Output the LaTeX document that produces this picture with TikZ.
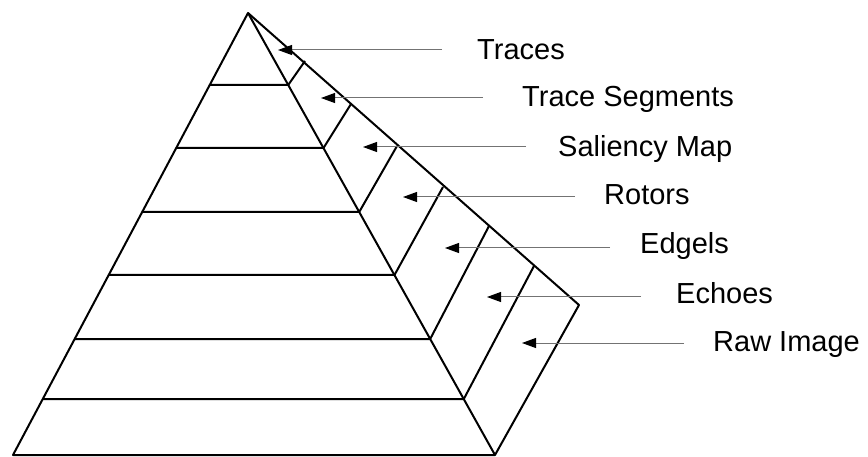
\documentclass[tikz,border=0pt]{standalone}
\usepackage{fontspec}
\setmainfont{Liberation Sans}
\usetikzlibrary{arrows.meta}
\tikzstyle{pyr}=[line width=2pt, line join=round]
\tikzstyle{layer}=[anchor=base west, inner sep=0pt, font=\fontsize{29}{29}\selectfont]
\tikzstyle{pointer}=[draw=black!55, line width=1pt, -{Triangle[length=14pt,width=10pt,color=black]}]

\begin{document}
\begin{tikzpicture}[x=1pt, y=-1pt]
\useasboundingbox (0, 0) rectangle (868, 457);
% pyramid corners and the side strip
\coordinate (apex) at (248, 13);
\coordinate (bl) at (13, 455);
\coordinate (br) at (495, 455);
\coordinate (corner) at (579, 305);
\draw[pyr] (bl) -- (apex) -- (br) -- cycle;
\draw[pyr] (apex) -- (corner) -- (br);
% levels: left end, right end, top of strip divider
\coordinate (l1) at (209.7, 85);  \coordinate (r1) at (288.2, 85);  \coordinate (s1) at (305, 61);
\coordinate (l2) at (176.2, 148); \coordinate (r2) at (323.5, 148); \coordinate (s2) at (351, 104);
\coordinate (l3) at (142.1, 212); \coordinate (r3) at (359.2, 212); \coordinate (s3) at (397, 146);
\coordinate (l4) at (108.6, 275); \coordinate (r4) at (394.5, 275); \coordinate (s4) at (443, 187);
\coordinate (l5) at (74.6, 339);  \coordinate (r5) at (430.2, 339); \coordinate (s5) at (489, 226);
\coordinate (l6) at (42.7, 399);  \coordinate (r6) at (463.8, 399); \coordinate (s6) at (534, 266);
\draw[pyr] (l1) -- (r1) -- (s1);
\draw[pyr] (l2) -- (r2) -- (s2);
\draw[pyr] (l3) -- (r3) -- (s3);
\draw[pyr] (l4) -- (r4) -- (s4);
\draw[pyr] (l5) -- (r5) -- (s5);
\draw[pyr] (l6) -- (r6) -- (s6);
% labels
\node[layer] at (477, 60) (traces) {Traces};
\node[layer] at (522, 107) (segments) {Trace Segments};
\node[layer] at (558, 157) (saliency) {Saliency Map};
\node[layer] at (604, 205) (rotors) {Rotors};
\node[layer] at (640, 254) (edgels) {Edgels};
\node[layer] at (676, 303) (echoes) {Echoes};
\node[layer] at (713, 351) (raw) {Raw Image};
% pointers into the strip
\coordinate (p1) at (442, 50);  \coordinate (q1) at (278, 50);
\coordinate (p2) at (483, 98);  \coordinate (q2) at (321, 98);
\coordinate (p3) at (526, 147); \coordinate (q3) at (363, 147);
\coordinate (p4) at (575, 197); \coordinate (q4) at (403, 197);
\coordinate (p5) at (610, 248); \coordinate (q5) at (445, 248);
\coordinate (p6) at (641, 297); \coordinate (q6) at (487, 297);
\coordinate (p7) at (684, 343); \coordinate (q7) at (522, 343);
\draw[pointer] (p1) -- (q1);
\draw[pointer] (p2) -- (q2);
\draw[pointer] (p3) -- (q3);
\draw[pointer] (p4) -- (q4);
\draw[pointer] (p5) -- (q5);
\draw[pointer] (p6) -- (q6);
\draw[pointer] (p7) -- (q7);
\end{tikzpicture}
\end{document}
